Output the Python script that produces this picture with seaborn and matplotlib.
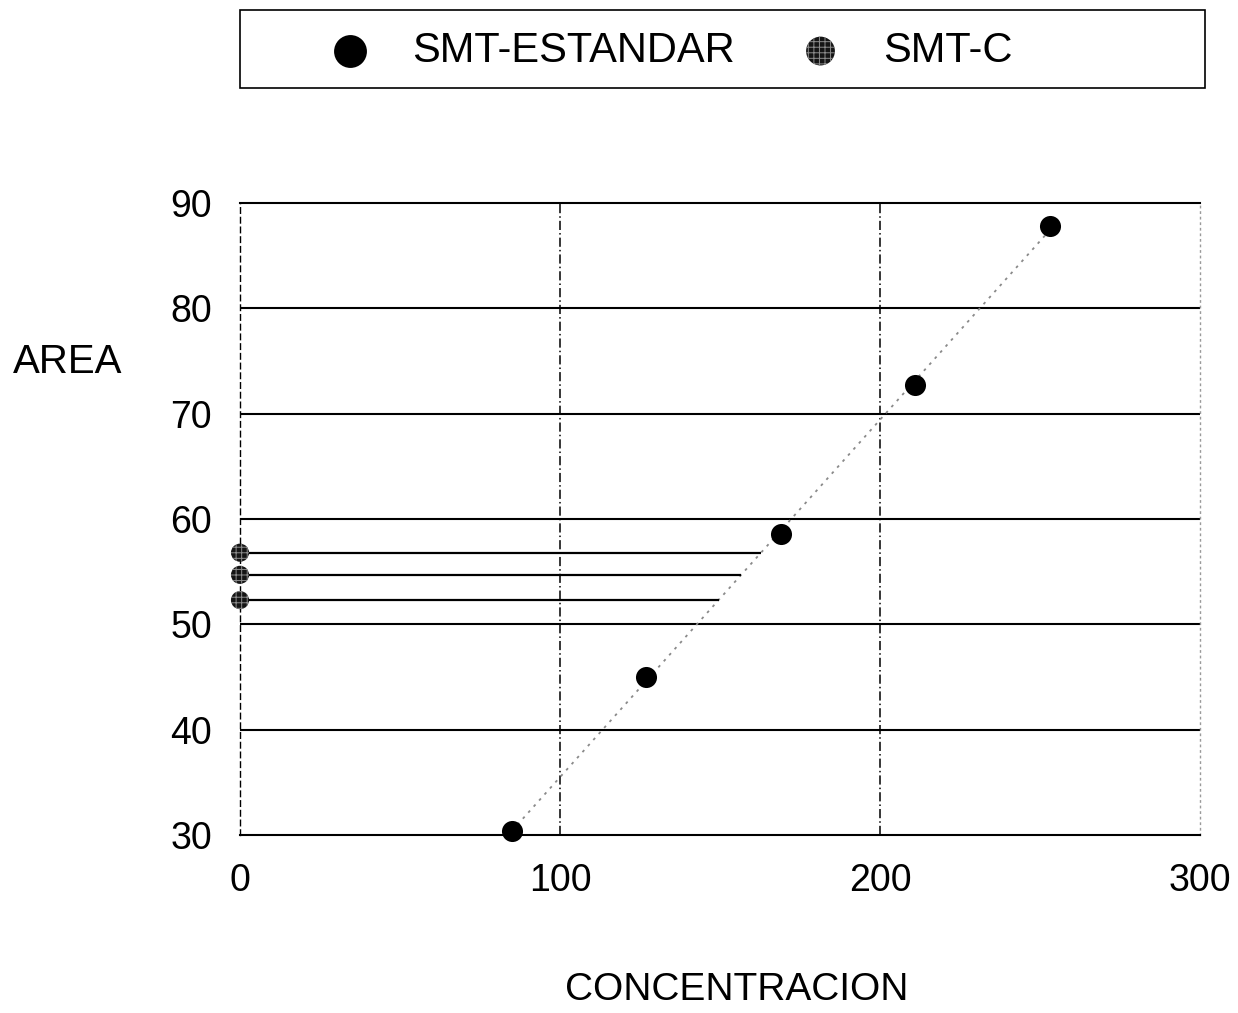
import numpy as np
import pandas as pd
import matplotlib
matplotlib.use("Agg")
import matplotlib.pyplot as plt
from matplotlib.patches import Rectangle
import seaborn as sns

# Calibration standards (concentration vs. peak area)
std_conc = [85, 127, 169, 211, 253]
std_area = [30.4, 45.0, 58.6, 72.7, 87.8]

# Sample responses, plotted on the area axis
sample_conc = [0, 0, 0]
sample_area = [56.8, 54.7, 52.3]

series_labels = ["SMT-ESTANDAR", "SMT-C"]
x_ticks = [0, 100, 200, 300]
y_ticks = [30, 40, 50, 60, 70, 80, 90]

sns.set_theme(style="white")
plt.rcParams["font.family"] = ["Liberation Sans", "DejaVu Sans"]
plt.rcParams["text.color"] = "black"

std_df = pd.DataFrame({"conc": std_conc, "area": std_area})
smp_df = pd.DataFrame({"conc": sample_conc, "area": sample_area})

fig = plt.figure(figsize=(12.38, 10.13), dpi=100)
ax = fig.add_axes([240 / 1238, 1 - 835 / 1013, 960 / 1238, 632 / 1013])

# calibration line through the standards
sns.regplot(data=std_df, x="conc", y="area", scatter=False, ci=None,
            truncate=True, ax=ax,
            line_kws=dict(color="#8a8a8a", lw=1.3, linestyle=(0, (1.5, 3))))

# horizontal readings from each sample to the calibration line
slope, intercept = np.polyfit(std_conc, std_area, 1)
for a in sample_area:
    ax.hlines(a, 0, (a - intercept) / slope, color="black", lw=1.6, zorder=2)

sns.scatterplot(data=std_df, x="conc", y="area", ax=ax, s=230,
                color="black", edgecolor="black", linewidth=0, zorder=4,
                clip_on=False)
plt.rcParams["hatch.linewidth"] = 0.7
sns.scatterplot(data=smp_df, x="conc", y="area", ax=ax, s=170,
                color="#151515", edgecolor="#8c8c8c", linewidth=0,
                hatch="+++", zorder=4, clip_on=False)

ax.set_xlim(0, 300)
ax.set_ylim(30, 90)
ax.set_xticks(x_ticks)
ax.set_yticks(y_ticks)
ax.tick_params(axis="both", length=0, labelsize=27, colors="black")
ax.tick_params(axis="y", pad=20)
ax.tick_params(axis="x", pad=20)

# horizontal grid solid, vertical grid dash-dot
for y in y_ticks[1:-1]:
    ax.axhline(y, color="black", lw=1.5, zorder=1)
for x in x_ticks[1:-1]:
    ax.axvline(x, color="black", lw=1.1, linestyle=(0, (6, 2, 1, 2)), zorder=1)

ax.spines["top"].set(color="black", lw=1.5)
ax.spines["bottom"].set(color="black", lw=1.5)
ax.spines["left"].set(color="black", lw=1.0, linestyle=(0, (4, 3)))
ax.spines["right"].set(color="#9a9a9a", lw=1.0, linestyle=(0, (1, 3)))

ax.set_xlabel("CONCENTRACION", fontsize=28, color="black", va="center")
ax.xaxis.set_label_coords(0.517, -0.245)
ax.set_ylabel("AREA", fontsize=29, color="black", rotation=0,
              ha="center", va="center")
ax.yaxis.set_label_coords(-0.180, 0.748)

# legend panel across the top
fig.patches.append(Rectangle((240 / 1238, 1 - 88 / 1013), 965 / 1238, 78 / 1013,
                             transform=fig.transFigure, fill=False,
                             edgecolor="black", lw=1.2))
handles = ax.collections[-2:]
leg = fig.legend(handles, series_labels, loc="center left",
                 bbox_to_anchor=(329 / 1238, 1 - 51 / 1013), ncol=2,
                 frameon=False, fontsize=30, handlelength=1.0,
                 handletextpad=1.0, columnspacing=1.55, borderpad=0,
                 borderaxespad=0, labelcolor="black")
for h, sz in zip(leg.legend_handles, [560, 430]):
    h.set_sizes([sz])

fig.savefig("out.png", dpi=100)
